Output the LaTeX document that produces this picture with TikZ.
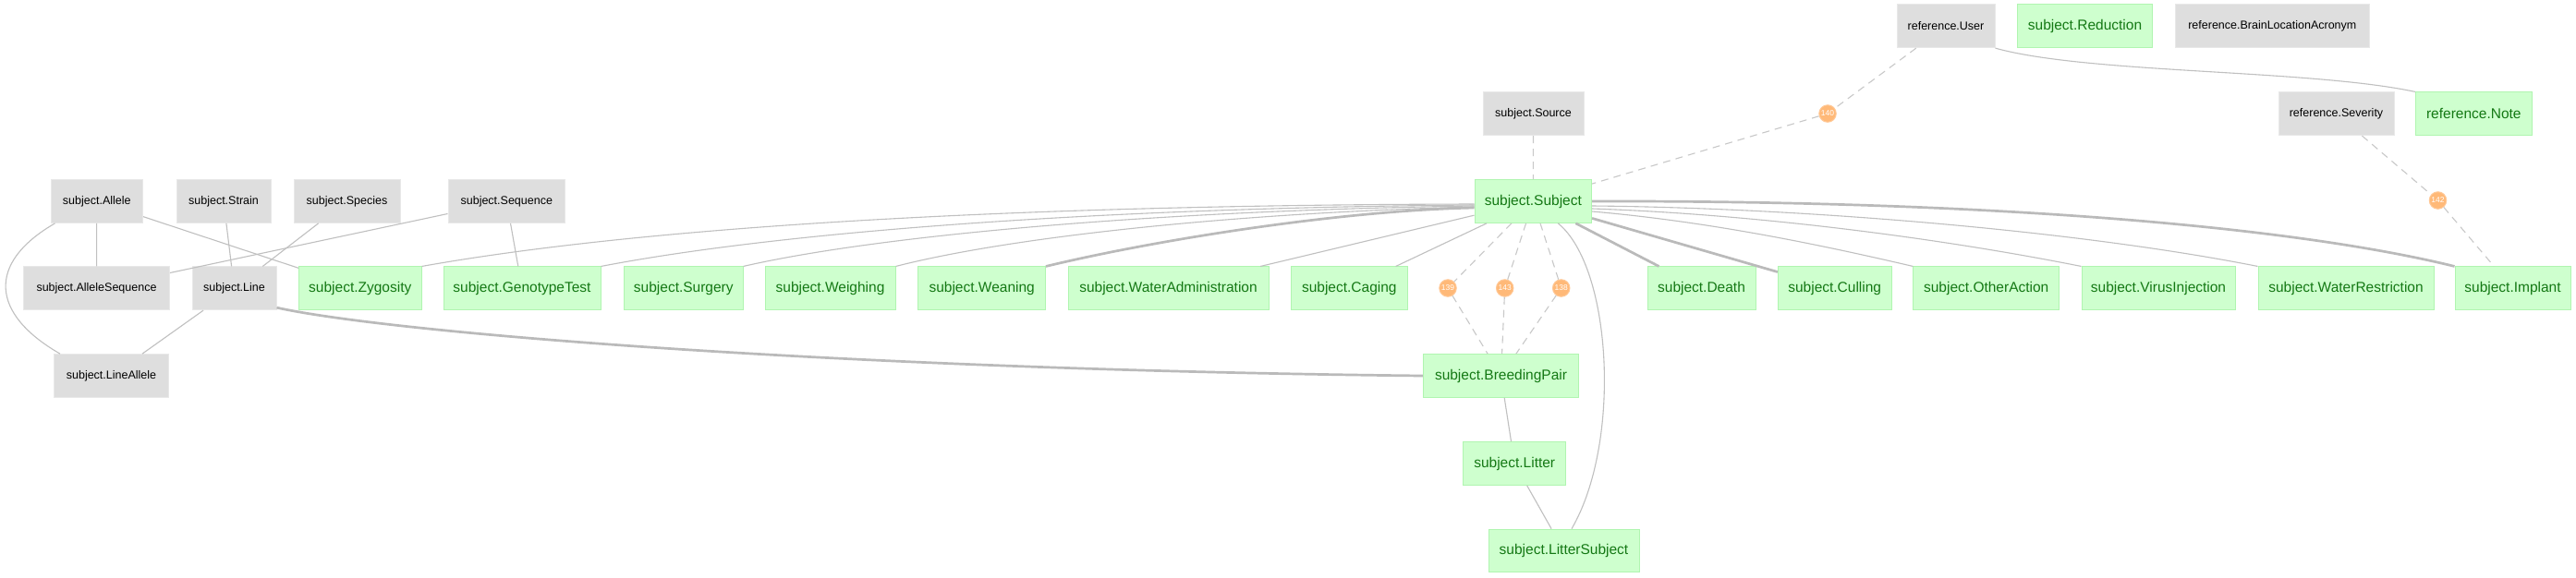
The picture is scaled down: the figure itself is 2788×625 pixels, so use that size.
\documentclass[tikz,border=0pt]{standalone}
\usepackage{fontspec}
\setmainfont{Liberation Sans}
\definecolor{greenfill}{RGB}{206,255,206}
\definecolor{greenline}{RGB}{176,245,176}
\definecolor{greentext}{RGB}{20,120,20}
\definecolor{grayfill}{RGB}{222,222,222}
\definecolor{grayline}{RGB}{232,232,232}
\definecolor{edgegray}{RGB}{192,192,192}
\definecolor{edgethick}{RGB}{186,186,186}
\definecolor{dashgray}{RGB}{200,200,200}
\definecolor{orangefill}{RGB}{255,185,120}
\definecolor{orangeline}{RGB}{255,200,150}
\tikzset{
  gbox/.style={draw=grayline, fill=grayfill, minimum height=46.7pt, inner sep=0pt, line width=1pt,
    font=\fontsize{12.5}{14}\selectfont, text=black},
  nbox/.style={draw=greenline, fill=greenfill, minimum height=46.7pt, inner sep=0pt, line width=1pt,
    font=\fontsize{15.5}{18}\selectfont, text=greentext},
  numc/.style={circle, fill=orangefill, draw=orangeline, line width=1pt, minimum size=18.5pt, inner sep=0pt,
    font=\fontsize{8.5}{9}\selectfont, text=white},
  ethin/.style={draw=edgegray, line width=1.1pt},
  ethick/.style={draw=edgethick, line width=2.7pt},
  edash/.style={draw=dashgray, line width=1.1pt, dash pattern=on 8pt off 6pt}
}
\begin{document}
\begin{tikzpicture}[x=1pt, y=-1pt]
\useasboundingbox (0,0) rectangle (2788,625);
\fill[white] (0,0) rectangle (2788,625);
% gray nodes
\node[gbox, minimum width=99.5pt] (allele) at (104.75,218) {subject.Allele};
\node[gbox, minimum width=102pt] (strain) at (242,218) {subject.Strain};
\node[gbox, minimum width=115pt] (species) at (375.5,218) {subject.Species};
\node[gbox, minimum width=126.6pt] (sequence) at (548.3,218) {subject.Sequence};
\node[gbox, minimum width=158pt] (alleleseq) at (104.5,312.3) {subject.AlleleSequence};
\node[gbox, minimum width=91pt] (line) at (253.5,312.3) {subject.Line};
\node[gbox, minimum width=124pt] (lineallele) at (120.5,407) {subject.LineAllele};
\node[gbox, minimum width=109pt] (source) at (1659.5,123.3) {subject.Source};
\node[gbox, minimum width=106pt] (user) at (2106,28.3) {reference.User};
\node[gbox, minimum width=210.6pt] (brain) at (2459.3,28.3) {reference.BrainLocationAcronym};
\node[gbox, minimum width=125pt] (severity) at (2528.5,123.3) {reference.Severity};
% green nodes
\node[nbox, minimum width=126.6pt] (subject) at (1659.3,218) {subject.Subject};
\node[nbox, minimum width=146.2pt] (reduction) at (2256.5,28.3) {subject.Reduction};
\node[nbox, minimum width=125.4pt] (note) at (2677.3,123.3) {reference.Note};
\node[nbox, minimum width=132.4pt] (zygosity) at (389.8,312.3) {subject.Zygosity};
\node[nbox, minimum width=170pt] (genotype) at (565,312.3) {subject.GenotypeTest};
\node[nbox, minimum width=128.4pt] (surgery) at (739.8,312.3) {subject.Surgery};
\node[nbox, minimum width=141pt] (weighing) at (898.5,312.3) {subject.Weighing};
\node[nbox, minimum width=137.5pt] (weaning) at (1062.7,312.3) {subject.Weaning};
\node[nbox, minimum width=217pt] (wateradmin) at (1264.5,312.3) {subject.WaterAdministration};
\node[nbox, minimum width=126.6pt] (caging) at (1460.3,312.3) {subject.Caging};
\node[nbox, minimum width=117pt] (death) at (1841.5,312.3) {subject.Death};
\node[nbox, minimum width=122.6pt] (culling) at (1985.7,312.3) {subject.Culling};
\node[nbox, minimum width=157.5pt] (otheraction) at (2149.7,312.3) {subject.OtherAction};
\node[nbox, minimum width=166pt] (virus) at (2336,312.3) {subject.VirusInjection};
\node[nbox, minimum width=190pt] (waterrestr) at (2539,312.3) {subject.WaterRestriction};
\node[nbox, minimum width=125pt] (implant) at (2719.5,312.3) {subject.Implant};
\node[nbox, minimum width=168.4pt] (bp) at (1624.5,407) {subject.BreedingPair};
\node[nbox, minimum width=111pt] (litter) at (1639.2,502) {subject.Litter};
\node[nbox, minimum width=163pt] (littersubj) at (1692.5,596.5) {subject.LitterSubject};
% number circles
\node[numc] (c140) at (1978,123) {140};
\node[numc] (c142) at (2638.5,217) {142};
\node[numc] (c139) at (1567,312) {139};
\node[numc] (c143) at (1628.7,312) {143};
\node[numc] (c138) at (1689.7,312) {138};
% left cluster edges
\draw[ethin] (allele) -- (alleleseq);
\draw[ethin] ([xshift=5pt]allele.south west) .. controls (-15,285) and (-10,340) .. ([xshift=7pt]lineallele.north west);
\draw[ethin] (allele) -- (zygosity);
\draw[ethin] (strain) -- (line);
\draw[ethin] (species) -- (line);
\draw[ethin] (sequence) -- (alleleseq);
\draw[ethin] (sequence) -- (genotype);
\draw[ethin] (line) -- (lineallele);
\draw[ethick] ([yshift=3pt]line.south east) .. controls (420,360) and (900,400) .. (bp.west);
% subject fan (left)
\draw[ethin] (zygosity.north east) .. controls (700,245) and (1100,222) .. ([yshift=-3pt]subject.west);
\draw[ethin] (genotype.north east) .. controls (850,250) and (1200,225) .. ([yshift=-4pt]subject.west);
\draw[ethin] (surgery.north east) .. controls (950,255) and (1250,228) .. ([yshift=-5pt]subject.west);
\draw[ethin] (weighing.north east) .. controls (1100,255) and (1350,230) .. ([yshift=-6pt]subject.west);
\draw[ethick] (weaning.north east) .. controls (1250,260) and (1450,228) .. ([yshift=-7pt]subject.west);
\draw[ethin] (wateradmin) -- (subject);
\draw[ethin] (caging) -- (subject);
% subject fan (right)
\draw[ethick] (subject) -- (death);
\draw[ethick] (subject) -- (culling);
\draw[ethin] ([yshift=-11pt]subject.east) .. controls (1850,240) and (1970,265) .. (otheraction.north west);
\draw[ethin] ([yshift=-8pt]subject.east) .. controls (1900,232) and (2100,258) .. (virus.north west);
\draw[ethin] ([yshift=-5pt]subject.east) .. controls (1950,225) and (2250,250) .. (waterrestr.north west);
\draw[ethick] (subject.east) .. controls (2150,217) and (2480,245) .. (implant.north west);
\draw[ethin] ([xshift=27pt]subject.south) .. controls (1745,290) and (1755,480) .. ([xshift=8.5pt]littersubj.north);
% dashed
\draw[edash] (source) -- (subject);
\draw[edash] (user) -- (c140);
\draw[edash] (c140) -- (subject);
\draw[edash] (severity) -- (c142);
\draw[edash] (c142) -- (implant);
\draw[edash] (subject) -- (c139);
\draw[edash] (c139) -- (bp);
\draw[edash] (subject) -- (c143);
\draw[edash] (c143) -- (bp);
\draw[edash] (subject) -- (c138);
\draw[edash] (c138) -- (bp);
% lower chain
\draw[ethin] (bp) -- (litter);
\draw[ethin] (litter) -- (littersubj);
% user - note
\draw[ethin] (user.south east) .. controls (2260,80) and (2500,75) .. (note.north west);
\end{tikzpicture}
\end{document}
